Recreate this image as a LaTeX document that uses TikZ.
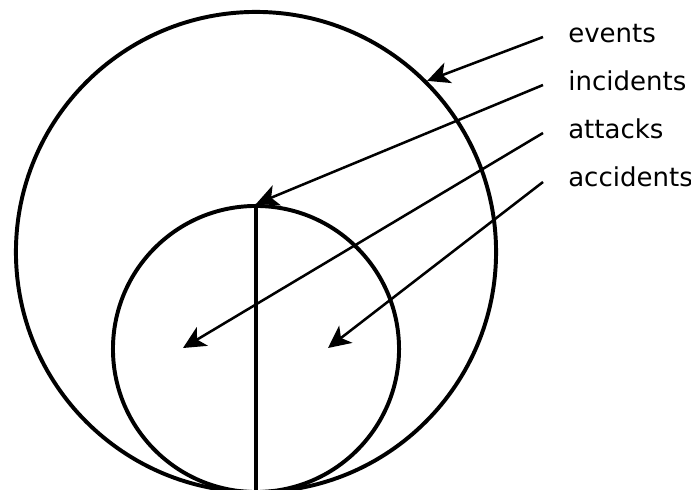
\documentclass[tikz,border=0pt]{standalone}
\usepackage{fontspec}
\setmainfont{DejaVu Sans}
\usetikzlibrary{arrows.meta}

\tikzset{
  setring/.style={circle,draw,line width=2.8pt,inner sep=0pt},
  setlabel/.style={anchor=base west,inner sep=0pt,font=\fontsize{18.5}{22}\selectfont},
  pointer/.style={-{Stealth[length=5.6mm,width=5.4mm,inset=1.5mm]},line width=1.8pt}
}

\begin{document}
\begin{tikzpicture}[x=0.025cm,y=-0.025cm]
  \useasboundingbox (0,0) rectangle (691,490);
  \node[setring,minimum size=12cm] (ev) at (256,252) {};
  \node[setring,minimum size=7.15cm] (inc) at (256,349) {};
  \draw[line width=2.8pt] (inc.north) -- (inc.south);
  \node[setlabel] (events) at (568,43) {events};
  \node[setlabel] (incidents) at (568,91) {incidents};
  \node[setlabel] (attacks) at (568,139) {attacks};
  \node[setlabel] (accidents) at (568,187) {accidents};
  \coordinate (evfrom) at (543,37);
  \coordinate (incfrom) at (543,85);
  \coordinate (attfrom) at (543,133);
  \coordinate (accfrom) at (543,182);
  \coordinate (attin) at (183,348);
  \coordinate (accin) at (328,348);
  \draw[pointer] (evfrom) -- (ev.45);
  \draw[pointer] (incfrom) -- (inc.north);
  \draw[pointer] (attfrom) -- (attin);
  \draw[pointer] (accfrom) -- (accin);
\end{tikzpicture}
\end{document}
